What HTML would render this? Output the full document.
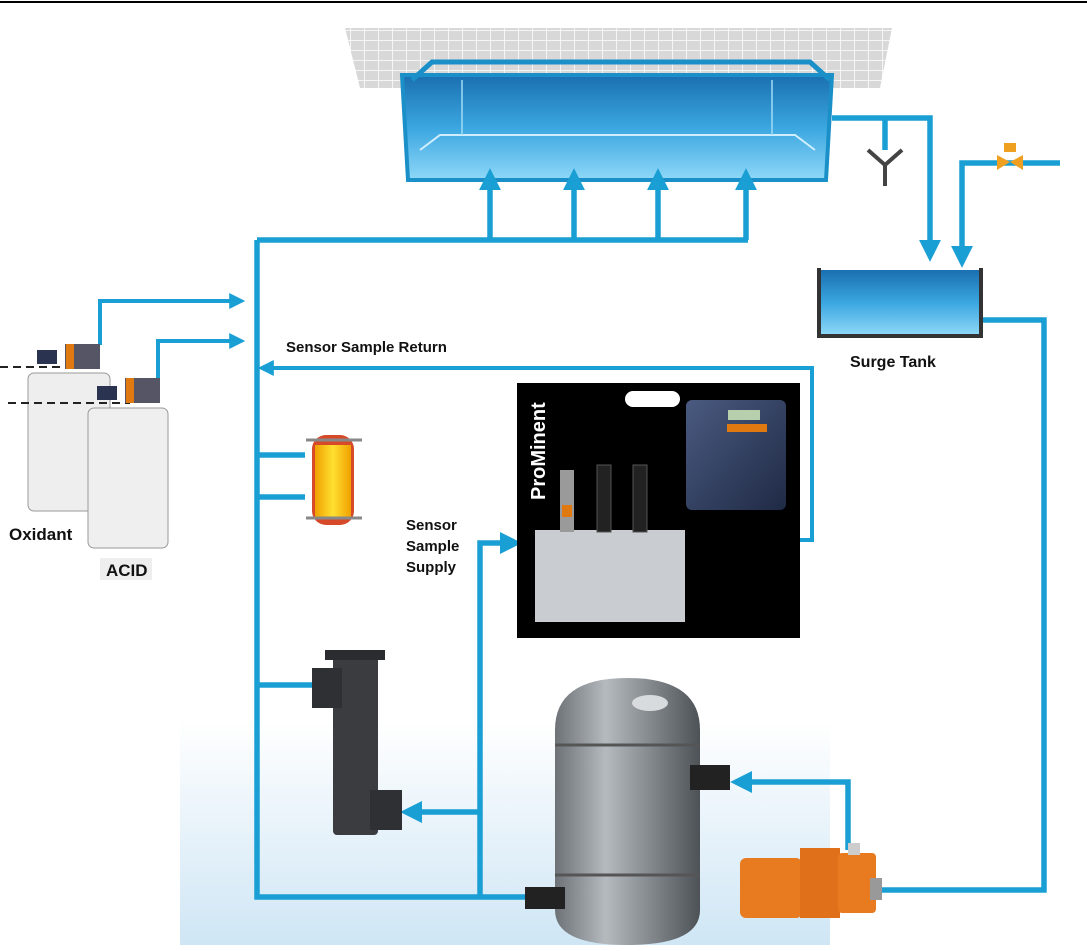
<!DOCTYPE html>
<html><head><meta charset="utf-8"><style>
html,body{margin:0;padding:0;background:#fff}
svg{display:block}
text{font-family:"Liberation Sans",Arial,sans-serif;font-weight:bold}
</style></head><body>
<svg width="1087" height="951" viewBox="0 0 1087 951" xmlns="http://www.w3.org/2000/svg">
<defs>
<linearGradient id="bg" x1="0" y1="0" x2="0" y2="1"><stop offset="0" stop-color="#fff"/><stop offset="1" stop-color="#cfe6f5"/></linearGradient>
<linearGradient id="water" x1="0" y1="0" x2="0" y2="1"><stop offset="0" stop-color="#1a6fb0"/><stop offset=".5" stop-color="#3aa6e0"/><stop offset="1" stop-color="#8fd8f8"/></linearGradient>
<linearGradient id="tank" x1="0" y1="0" x2="1" y2="0"><stop offset="0" stop-color="#6d7277"/><stop offset=".35" stop-color="#b5babf"/><stop offset="1" stop-color="#4d5257"/></linearGradient>
<linearGradient id="heat" x1="0" y1="0" x2="1" y2="0"><stop offset="0" stop-color="#f0a000"/><stop offset=".5" stop-color="#ffe030"/><stop offset="1" stop-color="#f0a000"/></linearGradient>
<linearGradient id="ctl" x1="0" y1="0" x2="1" y2="1"><stop offset="0" stop-color="#4a5a80"/><stop offset="1" stop-color="#1f2a45"/></linearGradient>
<marker id="ah" markerWidth="4" markerHeight="4" refX="2.2" refY="2" orient="auto" markerUnits="strokeWidth"><path d="M0,0 L4,2 L0,4z" fill="#1a9fd4"/></marker>
<pattern id="tile" width="14" height="10" patternUnits="userSpaceOnUse"><rect width="14" height="10" fill="#d8d8d8"/><path d="M0 0H14M0 0V10" stroke="#fff" stroke-width="1.5"/></pattern>
</defs>
<rect width="1087" height="951" fill="#fff"/>
<line x1="0" y1="2" x2="1087" y2="2" stroke="#000" stroke-width="2"/>
<rect x="180" y="720" width="650" height="225" fill="url(#bg)"/>
<path d="M345 28 H892 L880 88 H360 Z" fill="url(#tile)"/>
<path d="M402 75 H832 L826 180 H408 Z" fill="url(#water)" stroke="#1a8fc8" stroke-width="4"/>
<path d="M412 80 L432 62 H810 L830 80" fill="none" stroke="#1a8fc8" stroke-width="5"/>
<path d="M420 150 L440 135 H795 L815 150" fill="none" stroke="#cfeeff" stroke-width="2"/>
<path d="M462 80 V135 M772 80 V135" stroke="#9fdcf8" stroke-width="1.5"/>
<g fill="none" stroke="#1a9fd4" stroke-width="5.5">
<path d="M257 240 V897 H530"/>
<path d="M257 240 H748"/>
<path d="M490 240 V178" marker-end="url(#ah)"/>
<path d="M574 240 V178" marker-end="url(#ah)"/>
<path d="M658 240 V178" marker-end="url(#ah)"/>
<path d="M746 240 V178" marker-end="url(#ah)"/>
<path d="M832 118 H930 V252" marker-end="url(#ah)"/>
<path d="M885 118 V150"/>
<path d="M1060 163 H962 V258" marker-end="url(#ah)"/>
<path d="M982 320 H1044 V890 H875"/>
<path d="M848 850 V782 H740" marker-end="url(#ah)"/>
<path d="M480 897 V543 H512" marker-end="url(#ah)"/>
<path d="M480 812 H410" marker-end="url(#ah)"/>
<path d="M683 540 H812 V368 H265" marker-end="url(#ah)" stroke-width="4"/>
<path d="M257 455 H305"/><path d="M257 497 H305"/>
<path d="M257 685 H312"/>
<path d="M100 345 V301 H238" marker-end="url(#ah)" stroke-width="4"/>
<path d="M158 380 V341 H238" marker-end="url(#ah)" stroke-width="4"/>
</g>
<path d="M868 150 L885 165 L902 150 M885 165 V186" fill="none" stroke="#444" stroke-width="4"/>
<path d="M997 155 L1010 162 L997 170Z M1023 155 L1010 162 L1023 170Z" fill="#f0a020"/>
<rect x="1004" y="143" width="12" height="9" fill="#f0a020"/>
<rect x="820" y="270" width="160" height="65" fill="url(#water)"/>
<path d="M819 268 V336 H981 V268" fill="none" stroke="#333" stroke-width="4"/>
<text x="850" y="367" font-size="16" fill="#111">Surge Tank</text>
<rect x="28" y="373" width="82" height="138" rx="6" fill="#eee" stroke="#999"/>
<rect x="88" y="408" width="80" height="140" rx="6" fill="#efefef" stroke="#999"/>
<line x1="0" y1="367" x2="60" y2="367" stroke="#222" stroke-width="2" stroke-dasharray="8 5"/>
<line x1="8" y1="403" x2="130" y2="403" stroke="#222" stroke-width="2" stroke-dasharray="8 5"/>
<rect x="65" y="344" width="35" height="25" fill="#556" /><rect x="66" y="344" width="8" height="25" fill="#e07a10"/>
<rect x="125" y="378" width="35" height="25" fill="#556" /><rect x="126" y="378" width="8" height="25" fill="#e07a10"/>
<rect x="37" y="350" width="20" height="14" fill="#2a3350"/><rect x="97" y="386" width="20" height="14" fill="#2a3350"/>
<text x="9" y="540" font-size="17" fill="#111">Oxidant</text>
<rect x="100" y="558" width="52" height="22" fill="#eee"/>
<text x="106" y="576" font-size="17" fill="#111">ACID</text>
<text x="286" y="352" font-size="15" fill="#111">Sensor Sample Return</text>
<text x="406" y="530" font-size="15" fill="#111">Sensor</text>
<text x="406" y="551" font-size="15" fill="#111">Sample</text>
<text x="406" y="572" font-size="15" fill="#111">Supply</text>
<rect x="312" y="435" width="42" height="90" rx="14" fill="#d64a2a"/>
<rect x="315" y="445" width="36" height="72" fill="url(#heat)"/>
<path d="M306 440H362M306 518H362" stroke="#888" stroke-width="3"/>
<rect x="333" y="655" width="45" height="180" rx="4" fill="#3a3c40"/>
<rect x="312" y="668" width="30" height="40" fill="#2e3034"/>
<rect x="370" y="790" width="32" height="40" fill="#2e3034"/>
<rect x="325" y="650" width="60" height="10" fill="#2a2c30"/>
<rect x="517" y="383" width="283" height="255" fill="#000"/>
<rect x="625" y="391" width="55" height="16" rx="8" fill="#fff"/>
<text transform="translate(545 500) rotate(-90)" font-size="20" fill="#fff">ProMinent</text>
<rect x="686" y="400" width="100" height="110" rx="6" fill="url(#ctl)"/>
<rect x="728" y="410" width="32" height="10" fill="#b8cfae"/>
<rect x="727" y="424" width="40" height="8" fill="#e07a10"/>
<rect x="535" y="530" width="150" height="92" fill="#c9ccd0"/>
<rect x="560" y="470" width="14" height="62" fill="#9a9a9a"/><rect x="562" y="505" width="10" height="12" fill="#e07a10"/>
<rect x="597" y="465" width="14" height="67" fill="#222" stroke="#555"/>
<rect x="633" y="465" width="14" height="67" fill="#222" stroke="#555"/>
<path d="M555 760 V730 Q555 678 627 678 Q700 678 700 730 V910 Q700 945 627 945 Q555 945 555 910Z" fill="url(#tank)"/>
<path d="M555 745H700M555 875H700" stroke="#555" stroke-width="3"/>
<ellipse cx="650" cy="703" rx="18" ry="8" fill="#d8dbde"/>
<rect x="690" y="765" width="40" height="25" fill="#222"/>
<rect x="525" y="887" width="40" height="22" fill="#222"/>
<rect x="740" y="858" width="62" height="60" rx="6" fill="#e87a20"/>
<rect x="800" y="848" width="40" height="70" fill="#e0701a"/>
<rect x="838" y="853" width="38" height="60" rx="4" fill="#e87a20"/>
<rect x="848" y="843" width="12" height="12" fill="#ccc"/>
<rect x="870" y="878" width="12" height="22" fill="#999"/>
</svg>
</body></html>
